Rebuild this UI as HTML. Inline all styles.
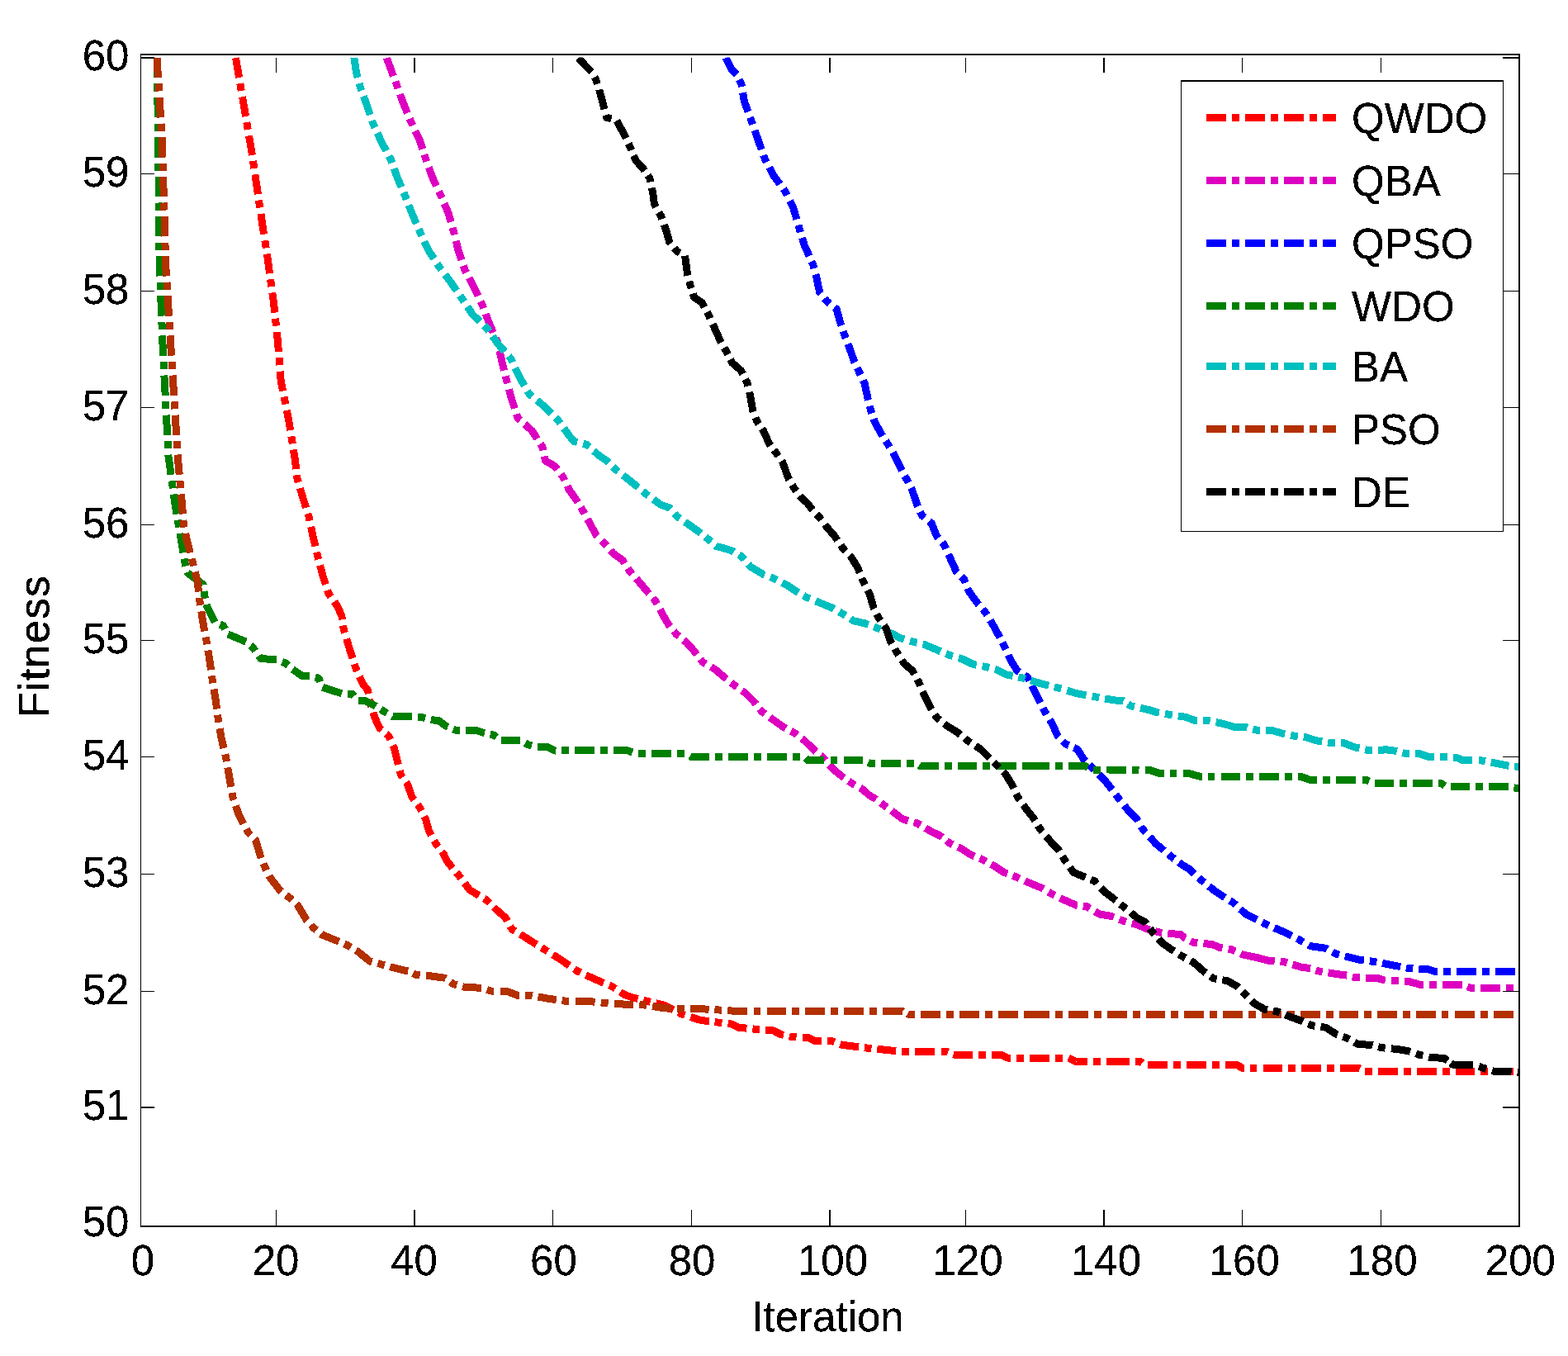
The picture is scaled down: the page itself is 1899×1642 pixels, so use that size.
<!DOCTYPE html>
<html lang="en"><head><meta charset="utf-8"><title>Fitness vs Iteration</title><style>
html,body{margin:0;padding:0;background:#fff;overflow:hidden;}
svg{display:block;}
text{font-family:"Liberation Sans",Arial,Helvetica,sans-serif;font-size:51px;fill:#000;}
</style></head><body>
<svg width="1899" height="1642" viewBox="0 0 1899 1642" xmlns="http://www.w3.org/2000/svg">
<defs><clipPath id="clip"><rect x="170" y="69.5" width="1671" height="1416"/></clipPath><filter id="crisp" x="0" y="0" width="1899" height="1642" filterUnits="userSpaceOnUse" color-interpolation-filters="sRGB"><feComponentTransfer><feFuncA type="discrete" tableValues="0 1 1"/></feComponentTransfer></filter></defs>
<rect x="0" y="0" width="1899" height="1642" fill="#fff"/>
<g clip-path="url(#clip)" fill="none" stroke-width="9" stroke-linejoin="round" shape-rendering="crispEdges">
<path stroke="#ff0000" d="M285.5 70.0L289.6 94.0M290.8 101.1L292.3 110.0M293.5 117.2L297.6 141.0M298.8 148.1L300.3 157.0M301.5 164.2L305.3 186.6L305.5 187.9M306.5 194.9L307.8 203.9M308.9 211.2L310.6 223.0L312.4 235.2M313.4 242.4L314.8 251.5M315.9 259.0L317.5 270.0L319.6 283.8M320.8 291.2L322.2 300.3M323.3 307.4L324.0 312.0L326.6 331.2M327.6 338.2L328.8 347.2M329.8 354.4L331.5 366.5L332.8 378.6M333.5 385.7L334.5 394.7M335.2 402.0L336.5 414.0L337.4 426.0M338.0 433.2L338.7 442.2M339.3 449.6L340.2 461.5L342.6 473.5M344.0 480.6L345.8 489.6M347.3 496.9L349.7 509.0L351.7 521.1M352.8 528.3L354.3 537.3M355.4 544.4L357.0 554.0L358.7 568.1M359.5 575.2L360.0 579.6L361.3 584.0M363.4 591.2L367.0 603.3L370.6 614.8M372.8 621.8L374.2 626.3L375.1 630.7M376.6 637.9L379.0 649.2L381.9 661.5M383.5 668.6L384.5 673.0L385.7 677.4M387.6 684.5L390.8 696.7L394.4 707.7M396.6 714.6L398.0 718.9L400.6 722.6M404.8 728.6L409.0 734.7L413.8 745.8L414.5 750.3M415.6 757.4L416.2 761.6L417.6 766.3M419.7 773.5L423.5 786.5L427.0 797.2M429.2 804.2L430.6 808.5L432.5 812.7M435.4 819.3L439.3 828.0L445.3 835.4L446.3 840.0M447.7 846.9L448.8 852.0L449.9 855.6M452.0 862.6L453.8 868.6L459.4 881.3L462.3 883.8M467.7 888.5L470.4 890.8L472.7 895.8M475.7 902.5L477.6 906.6L481.5 922.5L482.4 926.0M484.2 933.1L485.5 938.3L487.6 941.3M491.8 947.2L493.4 949.4L499.0 965.2L501.5 968.6M505.8 974.3L508.4 977.9L510.5 982.0M513.9 988.6L515.6 992.0L519.5 1006.4L522.3 1011.4M525.8 1017.8L528.2 1022.2L530.7 1025.5M535.0 1031.3L537.7 1034.9L541.0 1042.4L548.2 1051.1M552.8 1056.6L554.8 1059.0L558.3 1063.7M562.6 1069.4L568.6 1077.4L580.2 1084.5M586.2 1088.1L589.8 1090.3L593.1 1093.6M598.1 1098.6L601.1 1101.6L612.1 1111.1L614.5 1115.3M617.9 1121.5L620.0 1125.3L623.8 1127.6M629.9 1131.3L635.8 1134.8L646.9 1141.9L649.9 1143.8M655.8 1147.5L659.5 1149.8L663.3 1152.2M669.5 1156.0L678.5 1161.6L689.5 1169.2M695.4 1173.3L699.0 1175.8L703.1 1177.7M709.5 1180.7L719.5 1185.3L731.1 1190.3M737.7 1193.1L741.7 1194.8L745.3 1197.2M751.2 1201.1L755.9 1204.3L766.9 1208.2L772.6 1209.6M779.3 1211.2L783.5 1212.2L787.7 1213.2M794.4 1214.8L803.3 1216.9L813.5 1221.6L815.7 1222.8M821.7 1226.0L825.4 1228.0L829.5 1229.3M836.3 1231.5L847.5 1235.1L858.6 1236.7L858.8 1236.7M865.6 1237.6L874.4 1238.6M881.6 1239.5L885.8 1240.0L893.7 1244.0L904.4 1245.2M911.4 1245.9L915.8 1246.4L920.2 1246.7M927.2 1247.2L936.4 1247.9L945.8 1252.7L949.1 1253.4M955.8 1254.9L960.0 1255.8L964.5 1256.0M971.8 1256.3L979.0 1256.6L986.9 1260.6L994.9 1260.6M1002.1 1260.6L1007.4 1260.6L1010.7 1261.8M1017.3 1264.3L1020.1 1265.3L1040.0 1267.8M1046.9 1268.7L1051.7 1269.3L1055.4 1269.7M1062.3 1270.3L1085.1 1272.6M1091.9 1273.2L1100.7 1273.2M1108.1 1273.2L1132.3 1273.2M1139.6 1273.2L1146.5 1273.2L1148.3 1274.0M1154.7 1276.9L1155.0 1277.0L1178.1 1277.0M1185.1 1277.0L1193.9 1277.0M1201.0 1277.0L1211.9 1277.0L1219.7 1281.0L1223.7 1281.0M1230.8 1281.0L1239.7 1281.0M1246.9 1281.0L1270.8 1281.0M1278.0 1281.0L1286.9 1281.0M1294.1 1281.2L1303.5 1285.5L1317.0 1285.5M1324.2 1285.5L1333.1 1285.5M1340.3 1285.5L1344.2 1285.5M1344.2 1285.5L1368.0 1285.5M1375.1 1285.5L1381.4 1285.5L1383.5 1287.2M1390.0 1289.4L1414.0 1289.4M1421.1 1289.4L1430.1 1289.4M1437.2 1289.4L1460.9 1289.4M1468.0 1289.4L1476.8 1289.4M1484.0 1289.4L1498.0 1289.4L1505.0 1293.5L1506.5 1293.5M1513.5 1293.5L1522.4 1293.5M1529.5 1293.5L1553.2 1293.5M1560.2 1293.5L1569.1 1293.5M1576.3 1293.5L1600.2 1293.5M1607.4 1293.5L1616.3 1293.5M1623.4 1293.5L1646.3 1293.5L1647.0 1293.9M1653.1 1297.4L1662.0 1297.4M1669.2 1297.4L1692.9 1297.4M1700.0 1297.4L1708.9 1297.4M1716.0 1297.4L1739.7 1297.4M1746.7 1297.4L1755.5 1297.4M1762.6 1297.4L1786.1 1297.4M1793.1 1297.4L1801.9 1297.4M1809.1 1297.4L1832.9 1297.4M1840.0 1297.4L1840.5 1297.4"/>
<path stroke="#dd00c0" d="M468.3 70.0L468.6 71.0L473.3 83.7L476.4 92.1M478.9 98.6L480.4 102.7L482.0 107.1M484.5 114.0L488.4 124.9L493.4 136.9M496.2 143.7L497.9 147.9L499.8 151.9M502.9 158.4L508.1 169.2L511.8 180.5M513.9 187.2L515.3 191.4L516.8 195.7M519.3 202.6L523.2 213.6L528.5 225.1M531.6 231.6L533.5 235.7L535.3 239.8M538.1 246.5L543.0 257.9L546.1 268.9M548.1 275.7L549.3 280.0L550.4 284.4M552.2 291.6L554.8 302.2L559.0 314.9M561.3 321.8L562.7 326.1L564.8 330.1M568.2 336.6L573.8 347.5L579.0 358.3M582.1 364.8L584.1 368.9L585.7 373.2M588.2 380.1L592.0 390.2L597.3 402.6M600.2 409.2L602.3 414.0L603.2 417.8M604.9 424.9L607.9 437.7L610.6 448.5M612.3 455.5L613.4 459.9L614.6 464.3M616.5 471.4L619.7 483.6L623.3 494.6M625.5 501.5L626.9 505.8L630.2 508.8M635.5 513.6L644.3 521.6L650.6 531.4M654.4 537.3L656.8 541.0L657.8 545.4M659.4 552.4L660.6 558.0L671.7 564.3L675.0 568.6M679.3 574.3L682.0 577.8L683.9 581.8M687.0 588.3L689.1 592.8L697.0 603.9L699.7 608.3M703.4 614.3L705.7 618.1L707.9 622.1M711.4 628.5L714.4 634.0L722.3 648.2L723.5 649.4M728.6 654.5L731.8 657.7L734.7 661.0M739.4 666.4L742.9 670.4L754.0 678.3L756.5 682.2M760.3 688.1L762.7 691.8L765.7 695.2M770.5 700.6L774.6 705.2L782.5 714.7L786.0 718.7M790.7 724.1L793.6 727.4L795.8 731.4M799.2 737.8L803.0 744.8L809.4 755.9L811.5 758.6M816.1 764.2L818.9 767.7L822.4 770.5M827.9 775.1L831.5 778.0L840.6 788.2L843.9 792.6M848.2 798.2L850.9 801.7L854.8 804.0M861.0 807.6L865.9 810.4L877.0 819.9L879.9 822.2M885.4 826.6L888.9 829.4L892.6 832.0M898.5 836.2L902.3 838.9L913.4 850.0L915.6 852.8M920.1 858.3L922.9 861.8L926.5 864.4M932.3 868.6L937.1 872.1L948.2 880.0L951.8 881.9M958.0 885.2L961.7 887.2L965.4 890.0M971.0 894.4L975.1 897.5L986.2 908.5L988.3 910.2M993.6 914.8L995.7 916.5L999.8 921.0M1004.6 926.3L1009.6 931.9L1020.6 940.8L1022.1 941.8M1027.9 945.8L1032.5 949.0L1035.4 950.6M1041.7 954.1L1043.9 955.3L1052.7 962.9L1059.1 966.7L1061.0 968.1M1066.8 972.3L1070.4 974.9L1074.0 977.6M1079.8 981.8L1083.1 984.3L1093.2 991.9L1099.9 993.8M1106.7 995.8L1110.9 997.0L1114.7 999.2M1120.7 1002.7L1126.0 1005.8L1138.7 1012.1L1141.0 1013.9M1146.4 1018.1L1150.1 1021.0L1153.7 1022.6M1160.1 1025.5L1164.0 1027.3L1175.3 1034.9L1180.1 1036.9M1186.5 1039.5L1190.5 1041.2L1194.2 1043.2M1200.3 1046.6L1204.4 1048.8L1215.8 1056.4L1220.1 1058.0M1226.5 1060.4L1231.0 1062.1L1234.6 1063.7M1241.3 1066.7L1243.2 1067.6L1252.4 1071.5L1262.2 1075.5L1263.6 1076.4M1269.8 1080.1L1274.2 1082.8L1277.5 1084.4M1283.8 1087.3L1292.2 1091.3L1303.3 1096.1L1304.9 1096.3M1311.7 1097.1L1316.0 1097.6L1319.9 1099.9M1326.1 1103.7L1331.8 1107.1L1346.1 1109.5L1348.9 1110.6M1355.6 1113.2L1360.3 1115.1L1363.9 1116.1M1370.7 1117.9L1377.7 1119.8L1392.0 1126.1L1392.2 1126.1M1398.9 1127.7L1406.2 1129.3L1407.4 1129.4M1414.3 1130.1L1430.0 1131.7L1434.7 1135.6L1435.8 1136.1M1441.9 1139.3L1445.8 1141.2L1450.3 1141.7M1457.5 1142.5L1468.0 1143.6L1477.5 1147.5L1480.5 1148.0M1487.6 1149.2L1491.7 1149.9L1496.0 1151.8M1502.6 1154.7L1506.0 1156.2L1520.9 1159.2M1520.9 1159.2L1521.8 1159.4L1535.0 1163.0L1543.7 1163.6M1550.6 1164.1L1553.6 1164.3L1558.9 1165.9M1565.4 1167.9L1575.5 1171.0L1587.1 1172.7M1593.5 1174.8L1597.4 1176.1L1601.7 1176.8M1608.5 1177.9L1617.6 1179.4L1631.1 1181.1L1631.3 1181.1M1637.9 1182.8L1641.2 1183.6L1646.7 1183.8M1653.9 1184.0L1668.2 1184.5L1676.6 1187.0L1677.7 1187.1M1684.8 1187.5L1693.8 1188.0M1700.9 1188.4L1707.0 1188.7L1722.1 1192.9L1724.1 1192.9M1731.2 1192.9L1740.0 1192.9M1747.1 1192.9L1770.5 1192.9M1777.1 1194.7L1781.1 1196.3L1785.6 1196.3M1792.8 1196.3L1816.7 1196.3M1823.8 1196.3L1832.8 1196.3M1840.0 1196.3L1840.5 1196.3"/>
<path stroke="#0000ff" d="M879.1 70.0L879.5 71.1L885.8 83.7L892.1 90.1L892.1 90.1M895.4 96.5L897.7 101.2L898.4 105.0M899.6 112.2L901.6 123.3L906.0 135.4M908.5 142.2L910.3 147.1L911.6 150.7M914.0 157.8L917.5 167.6L922.2 181.0M924.7 187.9L926.2 192.2L928.3 196.2M931.7 202.7L936.5 212.0L944.5 223.0M948.8 228.8L951.5 232.6L953.4 236.5M956.7 243.1L960.2 250.0L964.9 265.6M966.9 272.6L968.1 276.9L969.4 281.2M971.5 288.0L974.4 297.5L978.4 306.3L980.1 310.1M982.9 316.6L984.7 320.6L986.0 325.0M987.9 332.1L988.7 334.8L992.6 353.8L994.0 355.6M998.5 361.3L1001.3 364.9L1004.8 367.7M1010.5 372.3L1013.2 374.4L1018.0 391.8L1018.9 394.3M1021.2 401.1L1022.7 405.3L1024.3 409.5M1026.9 416.4L1029.0 421.9L1034.6 437.7L1035.2 439.0M1038.2 445.5L1040.1 449.6L1042.1 453.8M1045.3 460.6L1047.2 464.6L1051.2 483.6L1051.5 484.6M1053.3 491.8L1054.4 496.3L1055.8 500.5M1058.0 507.2L1059.1 510.5L1067.0 524.8L1068.9 527.9M1072.7 533.8L1075.0 537.5L1077.4 541.5M1081.2 547.9L1083.3 551.4L1091.7 568.5L1092.4 569.8M1095.8 576.3L1098.0 580.4L1100.1 584.4M1103.5 590.8L1104.3 592.2L1110.7 611.2L1111.6 613.3M1114.4 619.8L1116.2 623.9L1119.7 626.7M1125.3 631.2L1128.1 633.4L1134.4 649.2L1136.4 651.6M1141.0 656.9L1143.9 660.3L1145.7 664.5M1148.7 671.3L1150.2 674.6L1158.1 692.0L1159.3 693.2M1164.4 698.3L1167.6 701.5L1169.3 705.7M1171.9 712.4L1173.2 715.7L1183.5 730.0L1185.4 732.2M1190.1 737.6L1193.0 741.0L1195.4 744.8M1199.2 751.0L1200.9 753.7L1208.8 768.0L1210.8 771.9M1214.0 778.2L1216.0 782.2L1218.0 786.4M1221.1 793.2L1224.1 799.6L1232.0 812.2L1234.5 813.8M1240.7 817.7L1244.6 820.2L1246.6 824.1M1249.7 830.4L1254.1 839.2L1260.1 851.2M1263.3 857.4L1265.2 861.3L1267.5 865.2M1271.3 871.4L1274.7 877.1L1281.0 891.4L1282.3 892.7M1287.3 897.7L1290.5 900.9L1294.4 902.6M1300.5 905.3L1304.8 907.2L1312.7 919.9L1314.6 921.8M1319.3 926.5L1322.2 929.4L1325.4 932.6M1330.7 937.9L1339.6 946.8L1346.8 956.3M1351.2 962.2L1353.9 965.8L1356.9 969.5M1361.6 975.4L1366.5 981.5L1376.7 991.8L1378.2 994.3M1382.0 1000.8L1384.1 1004.2L1387.6 1008.1M1392.4 1013.4L1399.9 1021.7L1409.7 1029.9M1415.1 1034.5L1418.8 1037.6L1422.1 1040.0M1427.8 1044.3L1432.8 1048.0L1439.5 1051.7L1446.6 1058.2M1451.9 1062.9L1455.3 1066.0L1458.6 1068.6M1464.2 1073.1L1471.1 1078.7L1480.6 1085.0L1483.5 1086.8M1489.5 1090.6L1493.3 1092.9L1496.7 1095.9M1502.1 1100.8L1509.1 1107.1L1522.1 1113.7M1528.6 1117.0L1531.5 1118.5L1536.6 1120.7M1543.1 1123.5L1553.6 1128.0L1564.4 1133.4M1570.6 1136.5L1573.8 1138.1L1578.4 1140.7M1584.7 1144.2L1587.3 1145.7L1605.8 1148.3L1607.6 1149.3M1613.7 1152.8L1617.6 1155.0L1621.9 1156.1M1628.8 1157.8L1634.5 1159.2L1648.0 1162.6L1651.8 1163.0M1658.8 1163.8L1663.1 1164.3L1667.3 1165.1M1674.0 1166.4L1685.0 1168.5L1696.2 1170.6M1702.9 1171.9L1707.0 1172.7L1711.4 1172.9M1718.4 1173.1L1728.9 1173.5L1739.0 1176.9L1741.1 1176.9M1748.1 1176.9L1756.9 1176.9M1764.1 1176.9L1788.0 1176.9M1795.2 1176.9L1804.1 1176.9M1811.3 1176.9L1835.1 1176.9"/>
<path stroke="#007f00" d="M190.3 70.0L190.6 94.2M190.7 101.4L190.8 110.5M190.9 117.9L191.2 142.3M191.3 149.6L191.4 158.8M191.5 166.2L191.6 171.0L191.8 190.6M191.9 197.9L192.0 207.0M192.1 214.3L192.3 238.3M192.4 245.5L192.5 254.6M192.6 262.0L192.8 286.4M192.9 293.7L193.0 302.8M193.1 310.1L193.2 320.0L193.8 334.4M194.0 341.7L194.4 350.8M194.7 358.2L195.7 382.6M195.9 389.9L196.3 399.1M196.6 406.4L197.0 417.0L197.7 430.7M198.1 438.0L198.5 447.1M198.9 454.5L200.2 478.9M200.6 486.2L201.0 495.3M201.4 502.6L202.7 526.9M203.0 534.1L203.5 543.2M203.9 550.6L204.0 553.0L205.6 563.7L207.1 574.9M208.1 582.2L209.3 591.3M210.3 598.5L212.0 611.0L214.0 622.6M215.2 629.7L216.7 638.6M218.0 645.8L219.9 657.0L221.9 669.4M223.1 676.5L223.8 681.0L224.9 685.5M226.8 692.9L227.0 693.6L246.0 707.8L246.1 708.4M247.0 715.9L247.6 720.5L248.6 724.9M250.1 731.9L250.7 734.7L260.0 753.3M266.4 756.1L270.5 757.7L272.6 761.7M276.0 768.0L298.0 777.1M303.5 781.6L306.8 784.6L309.3 788.2M313.3 794.1L315.6 797.4L335.0 799.0M341.6 801.4L345.7 803.0L349.0 805.9M354.3 810.5L366.3 818.8L375.0 818.8M381.8 820.2L386.0 821.2L387.6 825.6M390.6 832.2L400.0 835.4L414.0 839.8M421.3 840.0L426.5 840.0L428.9 843.0M433.5 848.0L441.2 848.0L453.8 854.4L455.2 855.3M461.1 859.0L465.0 861.5L468.7 863.7M475.1 867.4L476.0 867.9L498.1 867.9L499.1 868.0M506.3 868.4L510.8 868.6L515.0 869.7M521.8 871.4L523.5 871.8L531.4 872.6L540.9 879.7L542.4 880.3M548.8 882.9L552.8 884.5L557.2 884.5M564.2 884.5L577.3 884.5L586.0 887.6L586.9 887.8M593.7 889.1L597.9 890.0L601.3 892.7M607.0 896.4L630.1 896.4M636.1 899.7L639.8 901.9L644.0 902.9M650.9 904.3L662.8 904.3L672.3 909.0L673.0 909.0M679.9 909.0L688.7 908.9M695.9 908.9L719.8 908.8M726.9 908.8L735.7 908.8M742.9 908.8L759.6 908.7L766.0 911.1M772.9 912.0L781.8 912.0M789.1 912.0L813.2 912.0M820.4 912.0L829.4 912.0M835.6 915.5L837.0 916.4L859.1 916.4M866.2 916.4L875.2 916.4M882.4 916.4L906.2 916.4M913.3 916.4L922.2 916.4M929.3 916.4L952.8 916.4M959.8 916.4L968.7 916.4M975.5 917.7L978.6 920.9L998.3 920.9M1005.5 920.9L1014.4 920.9M1021.5 920.9L1044.9 920.9M1051.4 923.1L1053.8 924.4L1059.8 924.4M1067.0 924.4L1090.7 924.5M1097.8 924.6L1106.6 924.6M1113.2 926.7L1114.8 927.8L1136.5 927.8M1143.6 927.8L1152.5 927.8M1159.6 927.8L1183.3 927.8M1190.4 927.8L1199.3 927.8M1206.6 927.8L1230.6 927.8M1237.7 927.8L1246.7 927.8M1246.9 927.8L1270.9 927.8M1278.0 927.8L1286.9 927.8M1294.1 927.8L1314.3 927.8L1317.6 929.3M1324.1 932.0L1332.9 932.0M1340.1 932.0L1363.7 932.1M1370.7 932.1L1379.5 932.2M1386.7 932.2L1391.7 932.2L1404.3 936.4L1409.6 936.4M1416.6 936.4L1425.4 936.4M1432.5 936.4L1439.2 936.4L1453.4 940.3L1455.5 940.3M1462.5 940.3L1471.4 940.3M1478.5 940.3L1502.2 940.3M1509.2 940.3L1518.1 940.3M1525.2 940.3L1548.9 940.3M1555.9 940.3L1564.8 940.3M1571.9 940.3L1575.3 940.3L1586.4 944.3L1594.8 944.3M1601.8 944.4L1610.8 944.4M1618.1 944.4L1642.4 944.5M1649.7 944.6L1654.8 944.6L1658.2 946.1M1664.8 948.3L1688.1 948.3M1695.0 948.3L1703.8 948.3M1711.0 948.3L1734.9 948.3M1742.0 948.3L1745.1 948.3L1749.7 951.7M1756.6 952.4L1780.2 952.4M1787.3 952.4L1796.1 952.4M1803.1 952.4L1826.5 952.4M1833.4 953.7L1840.5 955.2"/>
<path stroke="#00bfbf" d="M428.9 70.0L429.0 71.0L431.4 87.0L433.2 94.0M435.0 101.0L436.1 105.1L437.8 109.7M440.3 116.5L444.0 126.5L448.3 139.2M450.6 146.1L452.0 150.2L454.0 154.5M457.0 161.1L462.2 172.4L467.8 182.7M471.2 189.0L473.3 193.0L474.8 197.3M477.3 204.1L481.2 215.1L486.1 226.6M488.9 233.2L490.7 237.3L492.4 241.6M495.0 248.4L499.4 259.5L504.3 270.8M507.2 277.5L509.0 281.6L510.9 285.7M513.9 292.3L519.2 303.8L523.2 309.5L525.6 313.2M529.5 319.3L531.9 323.0L534.6 326.6M539.0 332.5L546.1 342.0L553.0 352.1M557.1 358.0L559.6 361.7L562.1 365.4M566.1 371.4L572.2 380.7L581.3 389.4M586.5 394.3L589.7 397.4L592.3 401.1M596.5 407.0L603.1 416.4L611.3 425.8M616.0 431.2L618.9 434.6L620.8 438.8M623.9 445.4L629.2 456.7L635.2 467.1M638.8 473.4L641.1 477.3L644.6 480.1M650.2 484.7L658.5 491.5L667.8 500.8M672.8 505.8L675.9 509.0L678.6 512.7M682.9 518.6L688.5 526.4L694.6 534.2L699.2 535.4M706.2 537.1L710.4 538.2L713.8 541.2M719.1 545.9L725.5 551.7L735.0 558.0L737.3 560.3M742.2 565.2L745.3 568.3L748.8 571.0M754.4 575.4L763.5 582.5L772.9 590.3M778.3 594.8L781.7 597.6L785.4 600.3M791.3 604.7L799.9 611.0L811.0 615.0L812.1 616.3M816.8 621.8L819.7 625.3L823.4 627.8M829.3 631.9L834.7 635.6L845.8 643.5L848.7 645.8M854.2 650.2L857.7 653.0L861.1 656.0M866.4 660.7L867.5 661.6L877.5 664.1L887.0 667.2L888.7 668.3M894.8 671.9L898.6 674.2L901.5 677.7M906.2 683.2L908.6 686.1L924.5 695.6L926.2 696.2M932.9 698.8L937.1 700.4L941.0 702.3M947.3 705.5L951.4 707.5L963.3 715.4L967.0 717.6M973.0 721.1L976.7 723.3L980.9 725.0M987.8 727.8L994.1 730.4L1007.6 736.0L1010.0 737.4M1016.4 740.9L1020.3 743.1L1024.0 745.5M1029.8 749.3L1033.7 751.8L1048.0 755.0L1051.7 756.4M1058.2 758.9L1062.2 760.5L1066.4 762.1M1073.2 764.6L1081.2 767.6L1090.0 772.5L1095.1 774.0M1102.0 776.0L1106.3 777.3L1110.6 778.3M1117.5 779.9L1119.2 780.3L1129.1 784.5L1139.2 788.8M1145.6 791.5L1149.7 793.2L1153.9 794.5M1160.8 796.6L1165.5 798.0L1178.1 804.3L1182.7 805.2M1189.7 806.6L1194.0 807.5L1198.2 808.6M1205.0 810.3L1206.6 810.7L1219.3 817.0L1226.6 818.5M1233.3 819.9L1238.3 821.0L1241.6 822.0M1248.2 824.0L1258.9 827.3L1270.3 830.1M1276.9 831.8L1281.0 832.8L1285.3 834.1M1292.3 836.2L1304.8 839.9L1315.6 841.8M1322.6 843.1L1327.0 843.9L1331.2 844.7M1338.0 845.9L1349.1 847.9L1360.0 848.5L1360.4 848.8M1366.1 852.6L1369.6 854.9L1374.0 855.8M1381.0 857.3L1391.7 859.6L1401.2 862.7L1404.0 863.2M1411.0 864.4L1415.4 865.1L1419.8 865.8M1426.9 866.9L1436.0 868.3L1446.3 872.2L1449.7 872.2M1456.8 872.2L1461.3 872.2L1465.6 873.1M1472.6 874.6L1480.3 876.2L1487.7 878.3M1487.7 878.3L1494.6 880.2L1510.4 881.0L1510.6 881.1M1517.3 882.9L1521.5 884.1L1525.8 884.3M1533.0 884.6L1542.0 884.9L1553.1 888.1L1556.2 888.8M1563.1 890.3L1567.4 891.2L1571.8 891.7M1578.7 892.5L1581.6 892.8L1594.3 896.8L1601.3 897.9M1608.1 899.0L1612.3 899.7L1616.8 899.7M1624.0 899.7L1627.4 899.7L1639.7 904.5L1646.4 906.0M1653.2 907.6L1657.5 908.6L1661.8 908.5M1668.9 908.2L1679.4 907.9L1690.4 909.3L1691.9 909.7M1698.5 911.5L1702.7 912.7L1707.1 912.7M1714.2 912.7L1719.1 912.7L1731.4 916.8L1737.1 916.8M1744.1 916.8L1747.9 916.8L1753.0 917.0M1760.2 917.3L1764.3 917.5L1772.5 920.9L1783.4 920.9M1790.5 920.9L1794.4 920.9L1799.0 921.8M1805.7 923.1L1812.2 924.3L1825.9 927.1L1827.5 927.3M1834.1 927.9L1840.5 928.5"/>
<path stroke="#b33000" d="M190.0 70.0L191.5 94.2M192.0 101.4L192.6 110.5M193.0 118.0L194.6 142.4M195.0 149.7L195.6 158.8M196.1 166.2L196.4 171.0L197.0 190.6M197.2 197.9L197.4 207.0M197.6 214.3L198.3 238.4M198.5 245.5L198.8 254.6M199.0 262.0L199.7 286.4M199.9 293.7L200.2 302.8M200.4 310.1L200.7 321.0L201.5 334.5M202.0 341.7L202.6 350.8M203.0 358.2L204.6 382.7M205.0 390.0L205.6 399.1M206.0 406.4L206.7 417.0L207.6 430.7M208.0 438.0L208.6 447.1M209.1 454.5L210.7 479.0M211.1 486.3L211.7 495.3M212.2 502.7L213.7 526.9M214.2 534.1L214.8 543.2M215.2 550.5L215.7 558.0L217.2 574.8M217.9 582.1L218.7 591.2M219.4 598.4L220.5 610.5L221.4 622.5M221.9 629.7L222.2 634.2L223.1 638.7M224.7 645.9L227.0 657.0L230.3 669.5M232.1 676.5L233.3 680.9L234.4 685.4M236.3 692.5L238.9 703.0L240.6 716.6M241.4 723.9L242.0 728.4L242.7 732.9M243.8 740.2L245.5 752.0L247.8 764.3M249.2 771.4L250.0 775.9L250.7 780.3M251.9 787.5L253.2 795.0L255.5 811.2M256.5 818.3L257.1 822.7L257.8 827.2M259.0 834.5L261.0 846.5L262.6 858.5M263.6 865.7L264.2 870.2L264.9 874.8M266.1 882.1L268.1 894.0L271.0 906.1M272.7 913.3L273.7 917.7L274.5 922.1M275.7 929.3L277.6 939.9L279.7 952.9M280.9 960.0L281.6 964.4L283.1 968.7M285.4 975.6L289.5 987.4L294.9 997.5M298.3 1003.8L300.5 1008.0L303.5 1011.1M308.5 1016.4L309.6 1017.5L316.0 1038.7L316.1 1039.0M319.0 1045.7L320.7 1049.8L322.7 1053.9M326.0 1060.5L327.1 1062.7L340.0 1079.3L340.6 1079.8M346.5 1084.0L350.2 1086.6L353.6 1089.7M359.0 1094.6L360.3 1095.8L371.4 1114.3L371.9 1114.8M376.7 1120.2L379.7 1123.5L383.2 1126.3M388.7 1130.9L389.8 1131.8L410.0 1140.0L410.5 1140.2M416.9 1143.0L421.0 1144.7L424.9 1147.0M431.1 1150.8L433.1 1152.0L447.9 1164.0L450.5 1164.7M457.4 1166.5L461.7 1167.7L465.8 1168.9M472.3 1170.7L474.6 1171.4L494.0 1176.0L494.1 1176.0M500.2 1178.6L504.0 1180.3L508.6 1180.7M515.8 1181.3L518.8 1181.5L539.0 1184.3L539.7 1184.8M545.5 1189.0L549.2 1191.7L553.4 1192.8M560.2 1194.6L563.0 1195.4L583.2 1196.3M589.8 1198.5L594.4 1200.0L598.4 1200.1M605.7 1200.2L613.7 1200.3L626.3 1205.1L628.9 1205.1M636.1 1205.1L640.6 1205.1L644.8 1205.8M651.6 1207.0L662.7 1209.0L673.9 1210.6M680.6 1211.6L684.8 1212.2L689.3 1212.2M696.6 1212.2L710.1 1212.2L720.6 1213.3M727.8 1214.0L732.2 1214.5L736.6 1214.8M743.8 1215.3L755.9 1216.1L767.4 1216.5M774.4 1216.7L779.6 1216.9L783.1 1217.5M790.1 1218.5L800.1 1220.1L813.3 1221.5M820.2 1221.6L828.9 1221.6M835.8 1221.6L847.5 1221.6L858.6 1222.3M865.4 1222.7L874.1 1223.2M881.3 1223.7L888.6 1224.2L905.3 1224.2M912.5 1224.2L921.3 1224.2M928.5 1224.2L952.1 1224.2M959.1 1224.2L967.9 1224.2M975.1 1224.2L998.7 1224.2M1005.7 1224.2L1014.6 1224.2M1021.9 1224.2L1045.9 1224.2M1053.0 1224.2L1062.0 1224.2M1069.1 1224.2L1092.7 1224.2L1092.8 1224.3M1099.1 1227.5L1100.6 1228.3L1107.8 1228.3M1115.0 1228.3L1138.9 1228.3M1146.0 1228.3L1154.8 1228.3M1162.0 1228.3L1185.6 1228.3M1192.6 1228.3L1201.5 1228.3M1208.7 1228.3L1232.5 1228.3M1239.6 1228.3L1247.2 1228.3M1247.2 1228.3L1270.9 1228.3M1278.0 1228.3L1286.8 1228.3M1294.0 1228.3L1317.6 1228.3M1324.6 1228.3L1333.5 1228.3M1340.7 1228.3L1364.6 1228.3M1371.7 1228.3L1380.5 1228.3M1387.6 1228.3L1411.1 1228.3M1418.1 1228.3L1426.9 1228.3M1434.0 1228.3L1457.7 1228.3M1464.7 1228.3L1473.6 1228.3M1480.9 1228.3L1505.0 1228.3M1512.2 1228.3L1521.1 1228.3M1528.3 1228.3L1552.2 1228.3M1559.3 1228.3L1568.1 1228.3M1575.2 1228.3L1598.7 1228.3M1605.7 1228.3L1614.5 1228.3M1621.6 1228.3L1645.3 1228.3M1652.3 1228.3L1661.2 1228.3M1668.4 1228.3L1692.1 1228.3M1699.2 1228.3L1708.0 1228.3M1715.1 1228.3L1738.6 1228.3M1745.6 1228.3L1754.4 1228.3M1761.6 1228.3L1785.6 1228.3M1792.7 1228.3L1801.6 1228.3M1808.8 1228.3L1832.6 1228.3M1839.7 1228.3L1840.5 1228.3"/>
<path stroke="#000000" d="M700.6 70.0L702.2 71.9L710.0 80.6L716.7 87.2M720.0 93.3L722.0 97.2L723.4 101.6M725.8 108.6L725.9 109.1L729.1 121.0L732.0 132.3M733.8 139.4L734.6 142.3L740.4 143.9M746.9 146.3L755.2 161.3L758.1 167.4M761.2 173.9L763.1 177.9L764.8 181.9M767.5 188.3L770.2 194.6L778.9 204.1L780.7 206.7M784.5 212.4L786.9 215.9L787.8 220.3M789.4 227.5L790.8 234.1L792.4 246.8L794.6 250.8M798.1 257.1L800.3 261.0L801.8 265.3M804.3 272.1L806.6 278.5L810.6 292.7L812.2 294.8M816.6 300.4L819.3 304.0L823.3 306.1M829.6 309.7L831.2 322.2L832.7 333.2L832.8 333.7M834.7 340.7L835.9 345.1L837.2 349.1M839.2 355.6L840.7 360.2L850.2 366.5L853.0 371.9M856.2 377.8L858.1 381.5L860.1 385.7M863.2 392.4L864.4 395.0L871.5 410.8L873.6 414.7M877.2 421.1L879.4 425.1L881.4 429.1M884.6 435.4L886.6 439.3L897.6 448.8L899.7 452.9M902.8 459.2L904.8 463.1L905.9 467.6M907.7 474.8L907.9 475.7L911.9 497.9L912.2 498.8M914.9 505.6L916.6 509.8L919.0 513.4M922.9 519.1L924.6 521.6L931.7 537.5L933.2 539.5M937.3 545.0L939.9 548.5L942.6 552.2M946.9 558.2L947.5 559.0L951.3 569.4L955.1 579.8L955.8 580.9M959.4 587.2L961.7 591.2L964.4 594.7M968.7 600.3L971.2 603.5L977.8 609.2L982.6 615.8L984.2 617.6M989.0 622.7L992.0 625.8L994.7 629.5M999.1 635.3L1001.5 638.6L1010.0 648.0L1014.2 654.2M1018.3 660.2L1021.0 664.2L1023.9 667.3M1029.0 672.6L1030.9 674.6L1038.5 686.9L1041.2 693.4M1043.9 700.1L1045.6 704.3L1047.6 708.3M1050.8 714.8L1053.5 720.2L1057.5 734.4L1058.8 737.2M1061.8 743.7L1063.8 747.9L1066.3 751.4M1070.5 757.4L1073.3 761.3L1078.0 775.6L1080.2 779.4M1083.7 785.7L1086.0 789.8L1088.3 793.3M1092.2 799.2L1095.4 804.0L1105.0 812.0L1107.5 816.4M1110.9 822.5L1112.9 826.2L1114.7 830.6M1117.5 837.3L1119.6 842.3L1125.9 855.0L1128.4 859.1M1132.2 865.3L1134.6 869.2L1138.1 872.0M1143.6 876.4L1146.5 878.7L1159.2 886.6L1163.0 889.7M1168.4 894.1L1171.8 896.9L1175.4 899.3M1181.3 903.1L1187.6 907.2L1197.1 916.7L1198.7 918.3M1203.6 923.2L1206.6 926.2L1209.8 929.4M1214.9 934.5L1217.7 937.3L1225.6 950.0L1227.7 954.6M1230.6 961.1L1232.5 965.2L1235.1 968.8M1239.3 974.6L1243.4 980.3L1251.5 990.5L1253.5 993.7M1257.1 999.8L1259.5 1003.7L1262.3 1007.1M1267.0 1012.6L1273.2 1020.0L1282.0 1028.8L1283.1 1030.6M1286.7 1036.9L1289.0 1040.7L1291.6 1044.3M1295.7 1050.1L1300.2 1056.5L1309.7 1060.4L1314.6 1062.4M1321.1 1065.0L1325.5 1066.8L1328.3 1069.8M1333.2 1075.0L1338.1 1080.2L1347.6 1087.4L1351.4 1090.4M1356.9 1094.9L1360.3 1097.6L1363.8 1100.5M1369.4 1105.1L1377.7 1111.9L1387.2 1116.6L1388.6 1118.6M1392.7 1124.4L1395.1 1127.7L1398.3 1131.3M1403.1 1136.8L1407.8 1142.0L1418.9 1149.9L1421.8 1151.7M1427.9 1155.6L1431.5 1157.8L1435.6 1160.1M1441.9 1163.5L1445.8 1165.7L1458.5 1176.8L1460.2 1178.0M1466.0 1182.2L1469.5 1184.7L1473.6 1185.5M1480.2 1186.7L1487.0 1187.9L1498.0 1194.2L1499.9 1196.1M1504.6 1200.8L1507.5 1203.7L1510.6 1206.8M1515.5 1211.7L1518.6 1214.8L1531.5 1222.2L1535.1 1222.8M1541.9 1224.0L1546.9 1224.9L1550.1 1226.2M1556.6 1228.8L1563.7 1231.7L1575.5 1235.9L1578.0 1237.0M1584.3 1239.8L1589.0 1241.8L1592.5 1242.3M1599.4 1243.3L1605.8 1244.3L1617.6 1251.9L1620.0 1252.8M1626.4 1255.2L1631.1 1256.9L1634.2 1258.7M1640.3 1262.1L1644.6 1264.5L1661.4 1265.4L1662.5 1265.7M1669.1 1267.6L1673.2 1268.7L1677.6 1269.1M1684.8 1269.8L1691.8 1270.4L1707.0 1273.0L1708.2 1273.4M1714.8 1275.8L1718.7 1277.2L1723.3 1278.3M1730.3 1280.0L1732.2 1280.5L1749.1 1281.4L1753.1 1284.4M1757.0 1287.4L1759.2 1289.0L1783.5 1289.0M1791.1 1291.4L1796.3 1293.2L1800.1 1294.4M1807.0 1296.6L1809.7 1297.4L1830.0 1297.4L1830.7 1297.5M1837.7 1298.6L1840.5 1299.0"/>
</g>
<g fill="#000" shape-rendering="crispEdges">
<rect x="170" y="65" width="1671" height="2"/>
<rect x="170" y="1484" width="1671" height="2"/>
<rect x="170" y="65" width="1" height="1421"/>
<rect x="1839" y="65" width="2" height="1421"/>
<rect x="334" y="1465" width="1" height="19"/>
<rect x="334" y="70" width="1" height="18"/>
<rect x="501" y="1465" width="2" height="19"/>
<rect x="501" y="70" width="2" height="18"/>
<rect x="669" y="1465" width="1" height="19"/>
<rect x="669" y="70" width="1" height="18"/>
<rect x="837" y="1465" width="1" height="19"/>
<rect x="837" y="70" width="1" height="18"/>
<rect x="1004" y="1465" width="2" height="19"/>
<rect x="1004" y="70" width="2" height="18"/>
<rect x="1169" y="1465" width="1" height="19"/>
<rect x="1169" y="70" width="1" height="18"/>
<rect x="1336" y="1465" width="2" height="19"/>
<rect x="1336" y="70" width="2" height="18"/>
<rect x="1504" y="1465" width="1" height="19"/>
<rect x="1504" y="70" width="1" height="18"/>
<rect x="1672" y="1465" width="1" height="19"/>
<rect x="1672" y="70" width="1" height="18"/>
<rect x="170" y="69" width="17" height="2"/>
<rect x="1820" y="69" width="20" height="2"/>
<rect x="170" y="210" width="17" height="1"/>
<rect x="1820" y="210" width="20" height="1"/>
<rect x="170" y="352" width="17" height="1"/>
<rect x="1820" y="352" width="20" height="1"/>
<rect x="170" y="493" width="17" height="1"/>
<rect x="1820" y="493" width="20" height="1"/>
<rect x="170" y="635" width="17" height="1"/>
<rect x="1820" y="635" width="20" height="1"/>
<rect x="170" y="775" width="17" height="1"/>
<rect x="1820" y="775" width="20" height="1"/>
<rect x="170" y="916" width="17" height="1"/>
<rect x="1820" y="916" width="20" height="1"/>
<rect x="170" y="1058" width="17" height="1"/>
<rect x="1820" y="1058" width="20" height="1"/>
<rect x="170" y="1200" width="17" height="1"/>
<rect x="1820" y="1200" width="20" height="1"/>
<rect x="170" y="1340" width="17" height="2"/>
<rect x="1820" y="1340" width="20" height="2"/>
</g>
<g filter="url(#crisp)">
<text transform="matrix(1 0 0 1.03 173.00 1543.50)" text-anchor="middle">0</text>
<text transform="matrix(1 0 0 1.03 334.00 1543.50)" text-anchor="middle">20</text>
<text transform="matrix(1 0 0 1.03 501.50 1543.50)" text-anchor="middle">40</text>
<text transform="matrix(1 0 0 1.03 670.40 1543.50)" text-anchor="middle">60</text>
<text transform="matrix(1 0 0 1.03 838.10 1543.50)" text-anchor="middle">80</text>
<text transform="matrix(1 0 0 1.03 1008.50 1543.50)" text-anchor="middle">100</text>
<text transform="matrix(1 0 0 1.03 1172.00 1543.50)" text-anchor="middle">120</text>
<text transform="matrix(1 0 0 1.03 1339.50 1543.50)" text-anchor="middle">140</text>
<text transform="matrix(1 0 0 1.03 1507.20 1543.50)" text-anchor="middle">160</text>
<text transform="matrix(1 0 0 1.03 1674.00 1543.50)" text-anchor="middle">180</text>
<text transform="matrix(1 0 0 1.03 1841.40 1543.50)" text-anchor="middle">200</text>
<text transform="matrix(1 0 0 1.03 156.50 85.00)" text-anchor="end">60</text>
<text transform="matrix(1 0 0 1.03 156.50 225.50)" text-anchor="end">59</text>
<text transform="matrix(1 0 0 1.03 156.50 367.50)" text-anchor="end">58</text>
<text transform="matrix(1 0 0 1.03 156.50 509.00)" text-anchor="end">57</text>
<text transform="matrix(1 0 0 1.03 156.50 650.50)" text-anchor="end">56</text>
<text transform="matrix(1 0 0 1.03 156.50 790.50)" text-anchor="end">55</text>
<text transform="matrix(1 0 0 1.03 156.50 931.50)" text-anchor="end">54</text>
<text transform="matrix(1 0 0 1.03 156.50 1073.50)" text-anchor="end">53</text>
<text transform="matrix(1 0 0 1.03 156.50 1215.50)" text-anchor="end">52</text>
<text transform="matrix(1 0 0 1.03 156.50 1356.00)" text-anchor="end">51</text>
<text transform="matrix(1 0 0 1.03 156.50 1497.20)" text-anchor="end">50</text>
<text transform="matrix(1 0 0 1.03 1002.50 1612.30)" text-anchor="middle">Iteration</text>
<text transform="translate(59.7,782.6) rotate(-90) scale(1,1.03)" text-anchor="middle" letter-spacing="1.25">Fitness</text>
</g>
<g shape-rendering="crispEdges"><rect x="1430" y="97" width="391" height="547" fill="#fff"/><rect x="1430" y="97" width="391" height="2" fill="#000"/><rect x="1430" y="643" width="391" height="1" fill="#000"/><rect x="1430" y="97" width="1" height="547" fill="#000"/><rect x="1820" y="97" width="1" height="547" fill="#000"/></g>
<line x1="1461" y1="142.5" x2="1618" y2="142.5" stroke="#ff0000" stroke-width="9" stroke-dasharray="23.8 7.1 8.9 7.2" shape-rendering="crispEdges"/>
<line x1="1461" y1="218.5" x2="1618" y2="218.5" stroke="#dd00c0" stroke-width="9" stroke-dasharray="23.8 7.1 8.9 7.2" shape-rendering="crispEdges"/>
<line x1="1461" y1="294.5" x2="1618" y2="294.5" stroke="#0000ff" stroke-width="9" stroke-dasharray="23.8 7.1 8.9 7.2" shape-rendering="crispEdges"/>
<line x1="1461" y1="370.5" x2="1618" y2="370.5" stroke="#007f00" stroke-width="9" stroke-dasharray="23.8 7.1 8.9 7.2" shape-rendering="crispEdges"/>
<line x1="1461" y1="443.5" x2="1618" y2="443.5" stroke="#00bfbf" stroke-width="9" stroke-dasharray="23.8 7.1 8.9 7.2" shape-rendering="crispEdges"/>
<line x1="1461" y1="519.5" x2="1618" y2="519.5" stroke="#b33000" stroke-width="9" stroke-dasharray="23.8 7.1 8.9 7.2" shape-rendering="crispEdges"/>
<line x1="1461" y1="595.5" x2="1618" y2="595.5" stroke="#000000" stroke-width="9" stroke-dasharray="23.8 7.1 8.9 7.2" shape-rendering="crispEdges"/>
<g filter="url(#crisp)">
<text transform="matrix(1 0 0 1.03 1637.00 161.10)">QWDO</text>
<text transform="matrix(1 0 0 1.03 1637.00 237.10)">QBA</text>
<text transform="matrix(1 0 0 1.03 1637.00 313.10)">QPSO</text>
<text transform="matrix(1 0 0 1.03 1637.00 389.10)">WDO</text>
<text transform="matrix(1 0 0 1.03 1637.00 462.10)">BA</text>
<text transform="matrix(1 0 0 1.03 1637.00 538.10)">PSO</text>
<text transform="matrix(1 0 0 1.03 1637.00 614.10)">DE</text>
</g>
</svg>
</body></html>
